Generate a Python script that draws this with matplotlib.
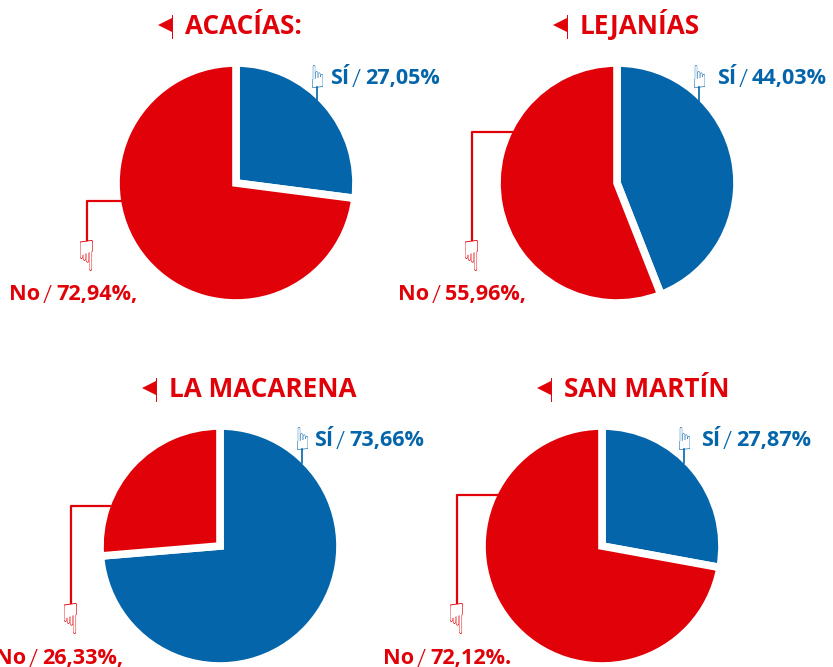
# -*- coding: utf-8 -*-
import matplotlib
matplotlib.use("Agg")
import matplotlib.pyplot as plt
from matplotlib.font_manager import FontProperties
from matplotlib.patches import PathPatch
from matplotlib.path import Path
from matplotlib.textpath import TextPath

# data
names = ["ACACÍAS:", "LEJANÍAS", "LA MACARENA", "SAN MARTÍN"]
si_vals = [27.05, 44.03, 73.66, 27.87]
no_vals = [72.94, 55.96, 26.33, 72.12]
si_labels = ["27,05%", "44,03%", "73,66%", "27,87%"]
no_labels = ["72,94%,", "55,96%,", "26,33%,", "72,12%."]

# layout, all in pixels of the picture
W, H = 833, 667
centers = [(236, 183), (617, 183), (220, 546), (602, 546)]
radius = 120
title_x = [185, 580, 169, 564]
title_base = [34, 34, 397, 397]
si_x = [330, 717, 314, 701]
si_base = [84, 84, 446, 446]
si_hand = [317, 699, 302, 684]
no_x = [9, 398, -5, 383]
no_base = [300, 300, 664, 664]
no_elbow = [87, 472, 71, 457]
no_y = [201, 132, 506, 495]
no_start = [122, 512, 110, 497]
no_end = [240, 240, 603, 603]

RED = "#e00109"
BLUE = "#0565aa"
FONT = "Open Sans"

fig = plt.figure(figsize=(W / 100, H / 100), dpi=100)
over = fig.add_axes([0, 0, 1, 1], zorder=2)
over.set_xlim(0, W)
over.set_ylim(H, 0)
over.axis("off")
over.patch.set_alpha(0)


def pieces(x, base, head, value, color):
    # bold word, thin slash, bold number, placed one after the other
    r = fig.canvas.get_renderer()
    t = over.text(x, base, head, color=color, fontsize=15.6, fontweight="bold", family=FONT, va="baseline", clip_on=False)
    x = t.get_window_extent(r).x1 + 3
    t = over.text(x, base + 3, "/", color=color, fontsize=19, fontweight="light", family=FONT, va="baseline", clip_on=False)
    x = t.get_window_extent(r).x1 + 4
    over.text(x, base, value, color=color, fontsize=15.6, fontweight="bold", family=FONT, va="baseline", clip_on=False)


def hand(glyph, x0, x1, y0, y1, color, mirror=False):
    # icon drawn from the font glyph, stretched into a box of the picture
    p = TextPath((0, 0), glyph, size=20, prop=FontProperties(family="DejaVu Sans"))
    b = p.get_extents()
    v = p.vertices.copy()
    sx = (v[:, 0] - b.x0) / b.width
    if mirror:
        sx = 1 - sx
    v[:, 0] = x0 + sx * (x1 - x0)
    v[:, 1] = y0 + (b.y1 - v[:, 1]) / b.height * (y1 - y0)
    over.add_patch(PathPatch(Path(v, p.codes), facecolor=color, edgecolor="none", lw=0))


for i in range(4):
    cx, cy = centers[i]
    ax = fig.add_axes([(cx - radius - 4) / W, 1 - (cy + radius + 4) / H,
                       (2 * radius + 8) / W, (2 * radius + 8) / H])
    ax.pie([si_vals[i], no_vals[i]], colors=[BLUE, RED], startangle=90, counterclock=False,
           radius=1, wedgeprops={"edgecolor": "white", "linewidth": 5.5})
    ax.set_xlim(-(radius + 4) / radius, (radius + 4) / radius)
    ax.set_ylim(-(radius + 4) / radius, (radius + 4) / radius)

    # title with small flag
    over.text(title_x[i], title_base[i], names[i], color=RED, fontsize=18.8, fontweight="bold",
              family=FONT, va="baseline")
    fx = title_x[i] - 13
    over.plot([fx, fx], [title_base[i] - 19, title_base[i] + 4], color=RED, lw=0.7)
    over.plot([fx - 7], [title_base[i] - 9], marker="<", color=RED, ms=10, mew=0)

    # si side
    over.plot([si_hand[i], si_hand[i]], [si_base[i] + 3, si_base[i] + 17], color=BLUE, lw=1.2)
    hand("\u261d", si_hand[i] - 5, si_hand[i] + 6, si_base[i] - 19, si_base[i] + 4, BLUE, mirror=True)
    pieces(si_x[i], si_base[i], "SÍ", si_labels[i], BLUE)

    # no side
    over.plot([no_start[i], no_elbow[i], no_elbow[i]], [no_y[i], no_y[i], no_end[i]], color=RED, lw=1.6)
    hand("\u261f", no_elbow[i] - 7, no_elbow[i] + 6, no_end[i], no_end[i] + 31, RED)
    pieces(no_x[i], no_base[i], "No", no_labels[i], RED)

fig.savefig("out.png", dpi=100)
